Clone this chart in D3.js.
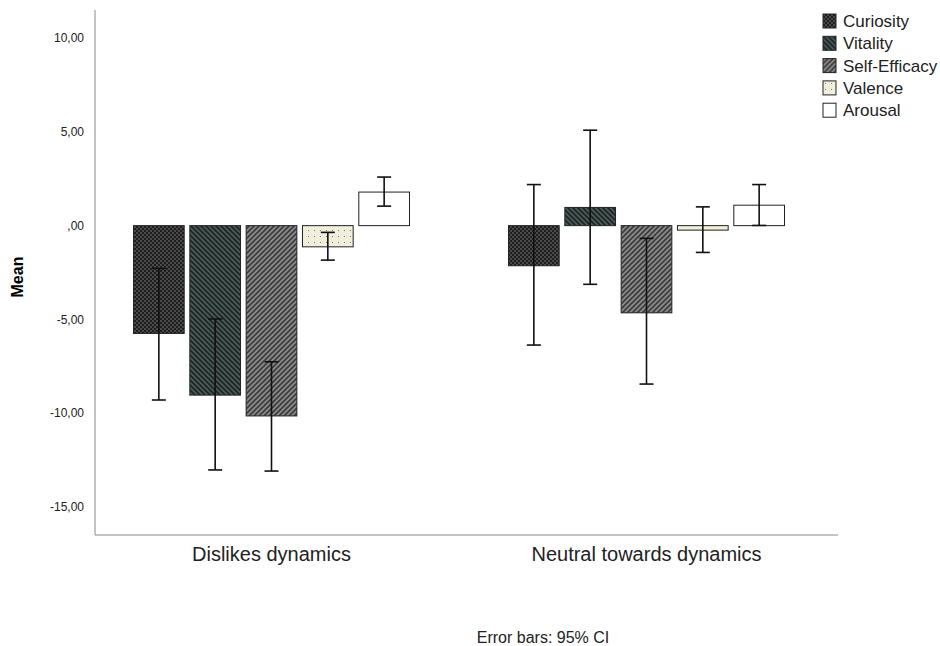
<!DOCTYPE html>
<html>
<head>
<meta charset="utf-8">
<script src="https://cdnjs.cloudflare.com/ajax/libs/d3/7.8.5/d3.min.js"></script>
<style>
  body { margin: 0; background: #fff; }
  text { font-family: Arial, "Liberation Sans", sans-serif; }
</style>
</head>
<body>
<script>
//data
var groups = ["Dislikes dynamics", "Neutral towards dynamics"];
var series = ["Curiosity", "Vitality", "Self-Efficacy", "Valence", "Arousal"];
var means = [
  [-5.75, -9.04, -10.15, -1.13, 1.79],
  [-2.14, 0.97, -4.65, -0.24, 1.09]
];
var ciLow = [
  [-9.30, -13.03, -13.09, -1.84, 1.04],
  [-6.37, -3.13, -8.45, -1.43, 0.01]
];
var ciHigh = [
  [-2.28, -4.98, -7.26, -0.36, 2.59],
  [2.19, 5.09, -0.68, 1.00, 2.19]
];
var yTicks = [10, 5, 0, -5, -10, -15];

var width = 940, height = 646;

var svg = d3.select("body").append("svg")
  .attr("width", width)
  .attr("height", height);

//fill patterns for each series
var defs = svg.append("defs");
function pat(id, bg, size, draw){
  var p = defs.append("pattern")
    .attr("id", id)
    .attr("patternUnits", "userSpaceOnUse")
    .attr("width", size).attr("height", size);
  p.append("rect").attr("width", size).attr("height", size).attr("fill", bg);
  draw(p);
}
pat("p0", "#1e1e1e", 4, function(p){
  p.append("rect").attr("x", 0).attr("y", 0).attr("width", 2).attr("height", 2).attr("fill", "#4a4a4a");
  p.append("rect").attr("x", 2).attr("y", 2).attr("width", 2).attr("height", 2).attr("fill", "#4a4a4a");
});
pat("p1", "#4a5a58", 5, function(p){
  p.append("path").attr("d", "M-1,-1 L6,6 M-1,4 L1,6 M4,-1 L6,1")
    .attr("stroke", "#1c2322").attr("stroke-width", 1.6);
});
pat("p2", "#8a8a8a", 5, function(p){
  p.append("path").attr("d", "M-1,6 L6,-1 M-1,1 L1,-1 M4,6 L6,4")
    .attr("stroke", "#3a3a3a").attr("stroke-width", 1.6);
});
pat("p3", "#f1eedb", 6, function(p){
  p.append("rect").attr("x", 2).attr("y", 2).attr("width", 1).attr("height", 1).attr("fill", "#777");
});
var fills = ["url(#p0)", "url(#p1)", "url(#p2)", "url(#p3)", "#ffffff"];

//scales
var y = d3.scaleLinear().domain([-16.5, 11.5]).range([535, 10]);
var x0 = d3.scaleBand().domain(groups).range([84, 834]).paddingInner(0).paddingOuter(0);
var x1 = d3.scaleBand().domain(series).range([-138, 138]).paddingInner(0.1);

//axes lines
svg.append("line").attr("x1", 95).attr("x2", 95).attr("y1", 10).attr("y2", 535)
  .attr("stroke", "#888").attr("stroke-width", 1);
svg.append("line").attr("x1", 95).attr("x2", 838).attr("y1", 535).attr("y2", 535)
  .attr("stroke", "#888").attr("stroke-width", 1);

var yAxis = d3.axisLeft(y).tickValues(yTicks).tickSize(0).tickPadding(11)
  .tickFormat(function(d){
    var s = d3.format(".2f")(Math.abs(d)).replace(".", ",");
    if (s.indexOf("0,") === 0) s = s.slice(1);
    return (d < 0 ? "-" : "") + s;
  });
var ya = svg.append("g").attr("transform", "translate(95,0)").call(yAxis);
ya.select(".domain").remove();
ya.selectAll("text").attr("font-size", 12).attr("fill", "#222")
  .attr("font-family", "Arial, 'Liberation Sans', sans-serif");

svg.append("text")
  .attr("transform", "translate(23,277) rotate(-90)")
  .attr("text-anchor", "middle")
  .attr("font-size", 16).attr("font-weight", "bold")
  .text("Mean");

//bars
var rows = [];
groups.forEach(function(g, gi){
  series.forEach(function(s, si){
    rows.push({g: g, s: s, si: si, m: means[gi][si], lo: ciLow[gi][si], hi: ciHigh[gi][si]});
  });
});

var cx = function(d){ return x0(d.g) + x0.bandwidth() / 2 + x1(d.s); };

svg.selectAll(".bar").data(rows).enter().append("rect")
  .attr("class", "bar")
  .attr("x", cx)
  .attr("width", x1.bandwidth())
  .attr("y", function(d){ return y(Math.max(0, d.m)); })
  .attr("height", function(d){ return Math.abs(y(d.m) - y(0)); })
  .attr("fill", function(d){ return fills[d.si]; })
  .attr("stroke", "#222").attr("stroke-width", 1);

//error bars
var eb = svg.selectAll(".err").data(rows).enter().append("g").attr("class", "err")
  .attr("stroke", "#111").attr("stroke-width", 1.6);
var mid = function(d){ return cx(d) + x1.bandwidth() / 2; };
eb.append("line").attr("x1", mid).attr("x2", mid)
  .attr("y1", function(d){ return y(d.hi); }).attr("y2", function(d){ return y(d.lo); });
eb.append("line").attr("x1", function(d){ return mid(d) - 7; }).attr("x2", function(d){ return mid(d) + 7; })
  .attr("y1", function(d){ return y(d.hi); }).attr("y2", function(d){ return y(d.hi); });
eb.append("line").attr("x1", function(d){ return mid(d) - 7; }).attr("x2", function(d){ return mid(d) + 7; })
  .attr("y1", function(d){ return y(d.lo); }).attr("y2", function(d){ return y(d.lo); });

//category labels
svg.selectAll(".cat").data(groups).enter().append("text")
  .attr("class", "cat")
  .attr("x", function(d){ return x0(d) + x0.bandwidth() / 2; })
  .attr("y", 561)
  .attr("text-anchor", "middle")
  .attr("font-size", 20).attr("fill", "#222")
  .text(function(d){ return d; });

//legend
var lg = svg.selectAll(".leg").data(series).enter().append("g").attr("class", "leg")
  .attr("transform", function(d, i){ return "translate(823," + (14 + i * 22.3) + ")"; });
lg.append("rect").attr("width", 13).attr("height", 14)
  .attr("fill", function(d, i){ return fills[i]; })
  .attr("stroke", "#222").attr("stroke-width", 1);
lg.append("text").attr("x", 20).attr("y", 13)
  .attr("font-size", 17).attr("fill", "#222")
  .text(function(d){ return d; });

svg.append("text")
  .attr("x", 543).attr("y", 643)
  .attr("text-anchor", "middle")
  .attr("font-size", 16).attr("fill", "#222")
  .text("Error bars: 95% CI");
</script>
</body>
</html>
